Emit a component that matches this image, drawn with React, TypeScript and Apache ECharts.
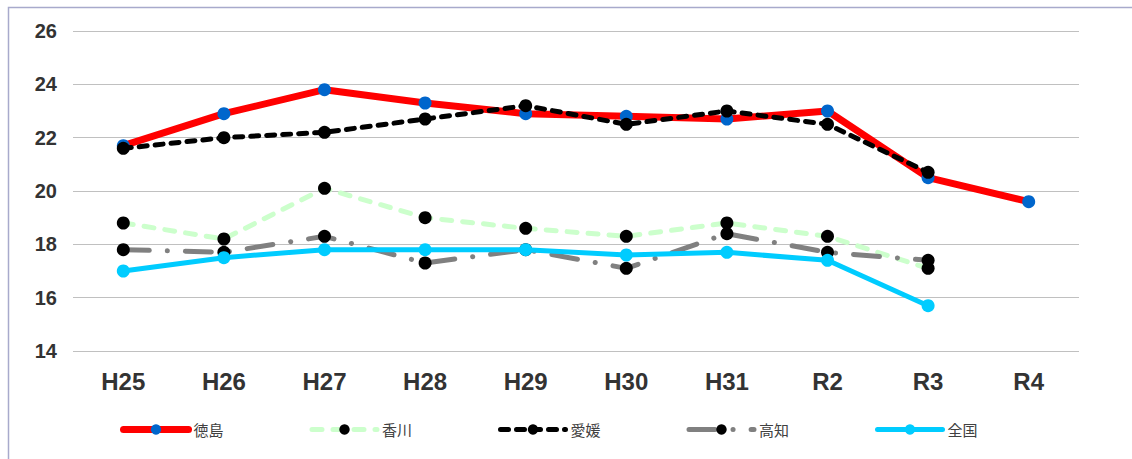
import React, { useEffect, useRef } from "react";
import * as echarts from "echarts";

const categories = ["H25", "H26", "H27", "H28", "H29", "H30", "H31", "R2", "R3", "R4"];
const tokushima = [21.7, 22.9, 23.8, 23.3, 22.9, 22.8, 22.7, 23.0, 20.5, 19.6];
const kagawa = [18.8, 18.2, 20.1, 19.0, 18.6, 18.3, 18.8, 18.3, 17.1, null];
const ehime = [21.6, 22.0, 22.2, 22.7, 23.2, 22.5, 23.0, 22.5, 20.7, null];
const kochi = [17.8, 17.7, 18.3, 17.3, 17.8, 17.1, 18.4, 17.7, 17.4, null];
const zenkoku = [17.0, 17.5, 17.8, 17.8, 17.8, 17.6, 17.7, 17.4, 15.7, null];
const yTicks = { min: 14, max: 26, interval: 2 };

export default function App() {
  const ref = useRef<HTMLDivElement>(null);
  useEffect(() => {
    document.body.style.margin = "0";
    const chart = echarts.init(ref.current!, null, { renderer: "svg" });
    const font = "'Liberation Sans', Arial, sans-serif";
    const styles = {
      徳島: { color: "#ff0000", width: 7, type: "solid" as any, marker: "#0066cc" },
      香川: { color: "#ccffcc", width: 5, type: [10, 11] as any, marker: "#000000" },
      愛媛: { color: "#000000", width: 5, type: [8, 8] as any, marker: "#000000" },
      高知: { color: "#808080", width: 5, type: [26, 18, 0.1, 18] as any, marker: "#000000" },
      全国: { color: "#00ccff", width: 5, type: "solid" as any, marker: "#00ccff" },
    };
    const mk = (name: keyof typeof styles, data: (number | null)[], z: number) => ({
      name,
      type: "line",
      data,
      symbol: "circle",
      symbolSize: 13,
      lineStyle: { color: styles[name].color, width: styles[name].width, type: styles[name].type, cap: "round", join: "round" },
      itemStyle: { color: styles[name].marker },
      z,
    });
    const names = ["徳島", "香川", "愛媛", "高知", "全国"] as const;
    chart.setOption({
      animation: false,
      backgroundColor: "#ffffff",
      graphic: [
        {
          type: "rect",
          left: 6,
          top: 5,
          shape: { width: 1200, height: 500 },
          style: { fill: "none", stroke: "#a8aacc", lineWidth: 1.5 },
          z: 0,
        },
      ],
      grid: { left: 73, right: 53, top: 31, bottom: 108 },
      legend: {
        left: 115,
        top: 417,
        itemWidth: 65,
        itemHeight: 13,
        itemGap: 86,
        textStyle: { fontSize: 15, color: "#404040", fontFamily: "'Noto Sans CJK JP', sans-serif" },
        data: names.map((n) => ({
          name: n,
          lineStyle: { width: styles[n].width, color: styles[n].color, type: styles[n].type, cap: "round" },
        })),
      },
      xAxis: {
        type: "category",
        data: categories,
        boundaryGap: true,
        axisLine: { show: false },
        axisTick: { show: false },
        axisLabel: { fontSize: 24, fontWeight: "bold", color: "#333333", margin: 18, fontFamily: font },
      },
      yAxis: {
        type: "value",
        min: yTicks.min,
        max: yTicks.max,
        interval: yTicks.interval,
        axisLine: { show: false },
        axisTick: { show: false },
        axisLabel: { fontSize: 20, fontWeight: "bold", color: "#333333", margin: 16, fontFamily: font },
        splitLine: { lineStyle: { color: "#c0c0c0", width: 1.2 } },
      },
      series: [
        mk("徳島", tokushima, 2),
        mk("香川", kagawa, 3),
        mk("愛媛", ehime, 4),
        mk("高知", kochi, 5),
        mk("全国", zenkoku, 6),
      ],
    });
    return () => chart.dispose();
  }, []);
  return <div ref={ref} style={{ width: 1132, height: 459 }} />;
}
